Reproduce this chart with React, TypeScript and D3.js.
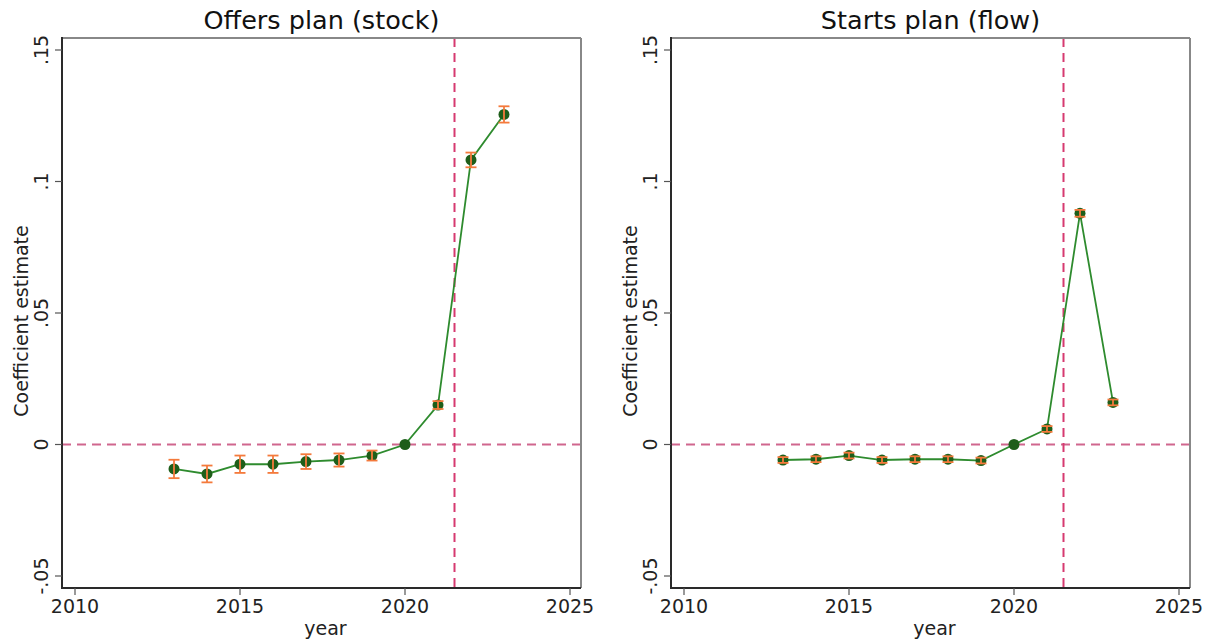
import React from "react";
import * as d3 from "d3";

// Event-study coefficients by year
const years = [2013, 2014, 2015, 2016, 2017, 2018, 2019, 2020, 2021, 2022, 2023];

const offersCoef = [-0.0093, -0.0112, -0.0075, -0.0075, -0.0065, -0.0059, -0.0042, 0, 0.015, 0.1082, 0.1255];
const offersHalfCI = [0.0035, 0.0032, 0.0033, 0.0033, 0.0028, 0.0025, 0.0019, 0, 0.0015, 0.0028, 0.0031];

const startsCoef = [-0.0059, -0.0056, -0.0042, -0.0059, -0.0056, -0.0056, -0.0061, 0, 0.0059, 0.0879, 0.016];
const startsHalfCI = [0.0011, 0.0011, 0.0011, 0.0011, 0.0011, 0.0011, 0.0011, 0, 0.0011, 0.0013, 0.0011];

const xTicks = [2010, 2015, 2020, 2025];
const yTicks = [-0.05, 0, 0.05, 0.1, 0.15];
const yTickLabels = ["-.05", "0", ".05", ".1", ".15"];

const treatmentYear = 2021.5;

const FONT = "DejaVu Sans, sans-serif";

type PanelProps = {
  left: number;
  title: string;
  coef: number[];
  halfCI: number[];
};

function Panel({ left, title, coef, halfCI }: PanelProps) {
  const top = 38;
  const bottom = 588;
  const width = 519;
  const right = left + width;

  const x = d3.scaleLinear().domain([2010, 2025]).range([left + 13, left + 508]);
  const y = d3.scaleLinear().domain([-0.05, 0.15]).range([576, 50]);

  const pts = years.map((yr, i) => ({ yr, v: coef[i], h: halfCI[i] }));
  const line = d3
    .line<{ yr: number; v: number }>()
    .x((d) => x(d.yr))
    .y((d) => y(d.v));

  const cx = (left + right) / 2;

  return (
    <g>
      <text x={cx} y={29} textAnchor="middle" fontSize={25.5} fontFamily={FONT} fill="#111">
        {title}
      </text>

      {/* reference lines */}
      <line x1={left} x2={right} y1={y(0)} y2={y(0)} stroke="#d0668e" strokeWidth={1.8} strokeDasharray="9,6" />
      <line x1={x(treatmentYear)} x2={x(treatmentYear)} y1={top} y2={bottom} stroke="#d63a70" strokeWidth={2} strokeDasharray="9,6" />

      {/* frame */}
      <line x1={left} x2={right} y1={top} y2={top} stroke="#888" strokeWidth={2} />
      <line x1={right} x2={right} y1={top} y2={bottom} stroke="#888" strokeWidth={2} />
      <line x1={left} x2={left} y1={top - 1} y2={bottom + 1} stroke="#2a2a2a" strokeWidth={2} />
      <line x1={left - 1} x2={right} y1={bottom} y2={bottom} stroke="#2a2a2a" strokeWidth={2} />

      {/* y axis ticks */}
      {yTicks.map((t, i) => (
        <g key={"y" + t}>
          <line x1={left - 7} x2={left} y1={y(t)} y2={y(t)} stroke="#555" strokeWidth={1.2} />
          <text
            transform={`translate(${left - 14},${y(t)}) rotate(-90)`}
            textAnchor="middle"
            fontSize={19}
            fontFamily={FONT}
            fill="#222"
          >
            {yTickLabels[i]}
          </text>
        </g>
      ))}

      {/* x axis ticks */}
      {xTicks.map((t) => (
        <g key={"x" + t}>
          <line x1={x(t)} x2={x(t)} y1={bottom} y2={bottom + 7} stroke="#555" strokeWidth={1.2} />
          <text x={x(t)} y={bottom + 25} textAnchor="middle" fontSize={19} fontFamily={FONT} fill="#222">
            {t}
          </text>
        </g>
      ))}

      <text x={cx + 4} y={635} textAnchor="middle" fontSize={19} fontFamily={FONT} fill="#222">
        year
      </text>
      <text
        transform={`translate(${left - 34},${(top + bottom) / 2 + 8}) rotate(-90)`}
        textAnchor="middle"
        fontSize={19}
        fontFamily={FONT}
        fill="#222"
      >
        Coefficient estimate
      </text>

      {/* series */}
      <path d={line(pts) ?? ""} fill="none" stroke="#2e8b2e" strokeWidth={1.8} />
      {pts.map((p) => (
        <circle key={"m" + p.yr} cx={x(p.yr)} cy={y(p.v)} r={5.5} fill="#1e5e1a" />
      ))}
      {pts
        .filter((p) => p.h > 0)
        .map((p) => (
          <g key={"ci" + p.yr} stroke="#f47a3c" strokeWidth={1.8}>
            <line x1={x(p.yr)} x2={x(p.yr)} y1={y(p.v + p.h)} y2={y(p.v - p.h)} />
            <line x1={x(p.yr) - 5.5} x2={x(p.yr) + 5.5} y1={y(p.v + p.h)} y2={y(p.v + p.h)} />
            <line x1={x(p.yr) - 5.5} x2={x(p.yr) + 5.5} y1={y(p.v - p.h)} y2={y(p.v - p.h)} />
          </g>
        ))}
    </g>
  );
}

export default function App() {
  return (
    <svg width={1213} height={644} style={{ display: "block", position: "absolute", left: 0, top: 0, background: "#fff" }}>
      <rect width={1213} height={644} fill="#fff" />
      <Panel left={62} title="Offers plan (stock)" coef={offersCoef} halfCI={offersHalfCI} />
      <Panel left={671} title="Starts plan (flow)" coef={startsCoef} halfCI={startsHalfCI} />
    </svg>
  );
}
